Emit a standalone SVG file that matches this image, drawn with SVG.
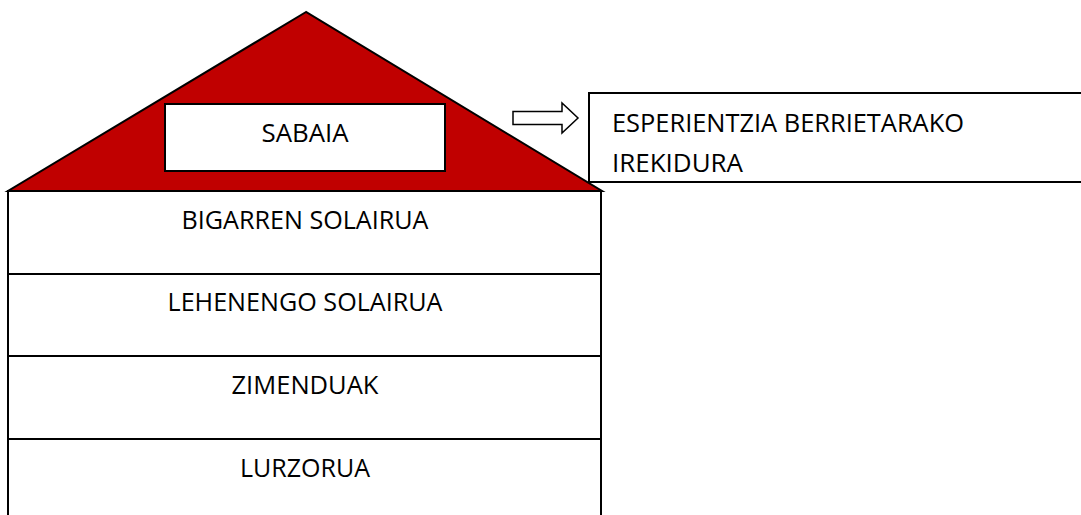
<svg xmlns="http://www.w3.org/2000/svg" width="1081" height="515" viewBox="0 0 1081 515">
<style>
  .box { fill: #ffffff; stroke: #000000; stroke-width: 2; }
  .roof { fill: #C00000; stroke: #000000; stroke-width: 2; stroke-linejoin: miter; }
  .lbl { font-family: "Open Sans", "Liberation Sans", sans-serif; font-size: 26px; fill: #000000; }
  .mid { text-anchor: middle; }
  .arrow { fill: #ffffff; stroke: #000000; stroke-width: 1.5; }
</style>
<rect x="0" y="0" width="1081" height="515" fill="#ffffff"/>
<g id="roof">
  <polygon class="roof" points="306,12 8,191 602,191"/>
</g>
<g id="sabaia">
  <rect class="box" x="165" y="104" width="280" height="67"/>
  <text class="lbl mid" x="305" y="142" textLength="87" lengthAdjust="spacingAndGlyphs">SABAIA</text>
</g>
<g id="bigarren-solairua">
  <rect class="box" x="8" y="191" width="593" height="83"/>
  <text class="lbl mid" x="305" y="229" textLength="247" lengthAdjust="spacingAndGlyphs">BIGARREN SOLAIRUA</text>
</g>
<g id="lehenengo-solairua">
  <rect class="box" x="8" y="274" width="593" height="82"/>
  <text class="lbl mid" x="305" y="311" textLength="275" lengthAdjust="spacingAndGlyphs">LEHENENGO SOLAIRUA</text>
</g>
<g id="zimenduak">
  <rect class="box" x="8" y="356" width="593" height="83"/>
  <text class="lbl mid" x="305" y="394" textLength="147" lengthAdjust="spacingAndGlyphs">ZIMENDUAK</text>
</g>
<g id="lurzorua">
  <rect class="box" x="8" y="439" width="593" height="90"/>
  <text class="lbl mid" x="305" y="477" textLength="130" lengthAdjust="spacingAndGlyphs">LURZORUA</text>
</g>
<g id="connectors">
  <polygon class="arrow" points="513,111.5 562,111.5 562,103 578,118 562,133 562,124.5 513,124.5"/>
</g>
<g id="esperientzia">
  <rect class="box" x="589" y="93" width="500" height="89"/>
  <text class="lbl" x="612" y="132" textLength="352" lengthAdjust="spacingAndGlyphs">ESPERIENTZIA BERRIETARAKO</text>
  <text class="lbl" x="612" y="172" textLength="131" lengthAdjust="spacingAndGlyphs">IREKIDURA</text>
</g>
</svg>
